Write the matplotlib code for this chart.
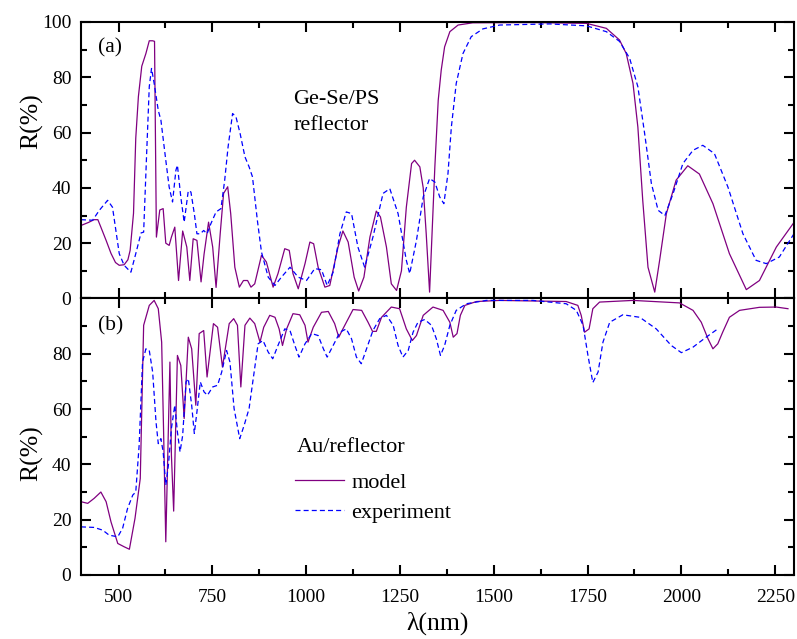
import matplotlib
matplotlib.use("Agg")
import matplotlib.pyplot as plt
from matplotlib.ticker import MultipleLocator

plt.rcParams['font.family'] = ['Liberation Serif', 'DejaVu Serif']

# (a) Ge-Se/PS reflector
wl_a_model = [400, 420, 435, 445, 453, 467, 480, 492, 502, 515, 525, 531, 540, 546, 553, 562, 573, 582,
              591, 596, 601, 610, 619, 626, 635, 641, 650, 660, 671, 682, 690, 699, 709, 720, 728, 740,
              751, 760, 771, 780, 791, 799, 810, 822, 833, 844, 853, 863, 881, 894, 912, 925, 943, 955,
              965, 979, 997, 1010, 1020, 1032, 1050, 1063, 1085, 1098, 1112, 1128, 1140, 1154, 1170,
              1187, 1198, 1214, 1227, 1241, 1254, 1267, 1281, 1289, 1303, 1312, 1320, 1329, 1343, 1352,
              1360, 1369, 1383, 1405, 1444, 1600, 1747, 1800, 1835, 1853, 1871, 1884, 1897, 1911, 1929,
              1942, 1960, 1986, 2017, 2048, 2084, 2128, 2173, 2208, 2253, 2300]
R_a_model = [26.4, 27.5, 28.5, 28.5, 25.8, 21, 16.3, 13, 12, 12.2, 14, 17.4, 30.8, 58, 73, 84, 88.6, 93.2,
             93.2, 93, 22.2, 32, 32.5, 20, 19.2, 22.2, 25.8, 6.5, 24.4, 18.6, 6.5, 21.6, 21, 6, 16, 27.6,
             18.6, 4, 23.4, 38, 40.4, 30.7, 11.3, 4.1, 6.5, 6.5, 4.1, 5.3, 15.6, 13.2, 4.1, 9, 18, 17.4,
             9, 3.5, 12.6, 20.4, 19.8, 11.3, 4.1, 4.7, 18.6, 24.4, 20.4, 7.7, 2.7, 7.7, 22.2,
             31.6, 29.5, 18.6, 5.3, 2.9, 10, 33, 48.8, 50, 47.6, 40, 23.4, 2.3, 47.6, 71.7,
             82.6, 91, 96.5, 98.9, 99.7, 99.8, 99.5, 97.7, 93.5, 88.6, 77.8, 62, 35.5, 11.3, 2.3,
             13.8, 30.7, 42.8, 48, 45, 34.3, 16.2, 3.2, 6.5, 18.6, 27.5]

wl_a_exp = [400, 431, 449, 471, 484, 502, 515, 533, 546, 560, 567, 575, 582, 588, 595, 606, 613, 626, 635,
            644, 653, 657, 666, 675, 686, 693, 702, 709, 718, 727, 736, 746, 760, 773, 783, 792, 804, 813,
            824, 837, 848, 857, 870, 881, 899, 917, 934, 957, 979, 1001, 1023, 1041, 1056, 1072, 1090,
            1107, 1121, 1138, 1156, 1178, 1205, 1223, 1245, 1267, 1276, 1294, 1312, 1329, 1343, 1356,
            1367, 1378, 1387, 1400, 1418, 1440, 1471, 1516, 1649, 1747, 1800, 1835, 1862, 1884, 1902,
            1920, 1938, 1956, 1978, 2004, 2031, 2057, 2088, 2124, 2164, 2199, 2226, 2261, 2300]
R_a_exp = [28.5, 28.3, 31.9, 35.5, 33, 16.2, 12, 9.5, 16.2, 23.7, 24, 52.4, 76.6, 83.2, 77.8, 68, 64.5, 50,
           40.3, 34.9, 46.4, 48.2, 36.7, 27.6, 39, 38.5, 30.7, 23.4, 23.4, 24.6, 23.4, 27, 31.3, 32.5,
           42.8, 54.8, 66.9, 65.7, 59.7, 51.2, 47.6, 44, 28.3, 16.8, 7.7, 4.7, 7.7, 11.3, 7.7, 6.5, 10.8,
           10.4, 4.7, 9.5, 23.4, 31.3, 30.7, 18.6, 11.3, 22.2, 38, 39.7, 30.7, 13.8, 9, 21, 36.7, 43.4,
           42.1, 36.7, 34.3, 45.2, 62, 77.8, 88.6, 94.7, 97.5, 98.9, 99.3, 98.6, 96.5, 93, 86.9, 76.6,
           59.7, 41.6, 31.9, 30, 38, 48.8, 53.6, 55.4, 52.4, 40.3, 23.4, 13.8, 12.6, 15, 23.4]

# (b) Au/reflector
wl_b_model = [400, 418, 435, 453, 467, 480, 498, 515, 529, 544, 558, 567, 582, 595, 606, 615, 620, 626,
              637, 641, 647, 657, 666, 675, 686, 695, 706, 715, 727, 736, 753, 764, 777, 795, 807, 817,
              826, 837, 850, 863, 877, 887, 903, 917, 928, 937, 948, 965, 983, 997, 1005, 1019, 1041,
              1059, 1076, 1087, 1098, 1125, 1148, 1165, 1177, 1187, 1201, 1227, 1249, 1267, 1283, 1294,
              1312, 1338, 1365, 1383, 1392, 1402, 1411, 1423, 1454, 1516, 1693, 1724, 1733, 1742, 1754,
              1764, 1782, 1871, 1995, 2031, 2053, 2071, 2084, 2097, 2110, 2128, 2155, 2208, 2253, 2284]
R_b_model = [26.5, 25.9, 27.7, 30, 26.5, 19.2, 11.4, 10.2, 9.3, 20.5, 34.9, 90.3, 97.5, 99.3, 96.3, 84.2,
             53, 12, 77, 43.3, 23.1, 79.4, 75.8, 56.6, 86, 81.8, 61.4, 87.3, 88.4, 71.6, 90.9, 89.6,
             75.2, 90.9, 92.7, 90.3, 68, 90.3, 92.9, 90.9, 84.2, 89.6, 93.9, 93.2, 89, 83, 89, 94.5,
             94.1, 90.3, 84.2, 89.6, 95, 95.3, 90.9, 86, 89, 96, 95.7, 91.4, 88.1, 88.1, 93.2, 96.9,
             96.3, 89, 84.8, 86.6, 93.9, 96.9, 95.7, 91.4, 86, 87.3, 93.9, 97.5, 98.9, 99.3, 98.9,
             97.5, 93.9, 87.8, 89, 96.3, 98.7, 99.3, 98.4, 95.7, 91.4, 85.4, 81.8, 83.6, 87.8, 93.2,
             95.7, 96.8, 96.9, 96.3]

wl_b_exp = [400, 435, 458, 475, 498, 511, 524, 538, 546, 555, 564, 573, 582, 591, 600, 606, 613, 619, 626,
            633, 641, 650, 657, 664, 671, 680, 686, 695, 702, 709, 718, 728, 737, 751, 764, 775, 788, 797,
            808, 823, 835, 848, 859, 872, 885, 899, 911, 925, 943, 957, 970, 981, 997, 1015, 1032, 1046,
            1056, 1072, 1090, 1107, 1121, 1134, 1147, 1161, 1178, 1196, 1214, 1232, 1245, 1258, 1272,
            1285, 1298, 1316, 1334, 1347, 1358, 1369, 1383, 1400, 1427, 1480, 1604, 1693, 1720, 1738,
            1751, 1764, 1778, 1791, 1809, 1844, 1889, 1933, 1973, 2000, 2031, 2066, 2097]
R_b_exp = [17.4, 17.2, 16.2, 14.4, 13.8, 16.9, 24, 28.9, 30, 46.9, 77, 81.8, 81.2, 73.4, 55.3, 47.5, 49.3,
           44.5, 32.5, 39.7, 53, 61.4, 51.7, 44.5, 50.5, 69.8, 71, 61.4, 51.2, 59, 69.8, 66.2, 65, 68,
           68.6, 73.4, 81.2, 77, 60.2, 49.3, 54.2, 60.2, 71, 83.6, 84.8, 80.6, 78.2, 83, 89, 88.4, 83,
           78.8, 83.6, 87.3, 86.6, 81.8, 78.8, 83, 87.8, 89, 85.4, 78.8, 76.4, 81.8, 88.4, 92.7, 93.9,
           90.3, 83, 78.8, 81.2, 87.8, 91.4, 92.4, 90.3, 85.4, 79.4, 83, 90.3, 95.7, 98.1, 99.3, 99.3,
           98.1, 95.7, 90.3, 79.4, 69.6, 73.4, 84.2, 91.4, 94.1, 93.2, 89, 83, 80.4, 82.4, 86, 89]

model_color = '#800080'
exp_color = '#0000ff'
dash = (0, (4, 2.5))

fig, (ax1, ax2) = plt.subplots(2, 1, figsize=(7.97, 6.39), dpi=100, sharex=True)
plt.subplots_adjust(left=0.1016, right=0.9962, top=0.9656, bottom=0.1002, hspace=0)

ax1.plot(wl_a_model, R_a_model, color=model_color, lw=0.9)
ax1.plot(wl_a_exp, R_a_exp, color=exp_color, lw=0.9, ls=dash)
ax2.plot(wl_b_model, R_b_model, color=model_color, lw=0.9, label='model')
ax2.plot(wl_b_exp, R_b_exp, color=exp_color, lw=0.9, ls=dash, label='experiment')

for ax in (ax1, ax2):
    ax.set_xlim(400, 2300)
    ax.set_ylim(0, 100)
    ax.xaxis.set_major_locator(MultipleLocator(250))
    ax.xaxis.set_minor_locator(MultipleLocator(125))
    ax.yaxis.set_major_locator(MultipleLocator(20))
    ax.yaxis.set_minor_locator(MultipleLocator(10))
    ax.tick_params(which='both', direction='in', top=True, right=True, width=1.5)
    ax.tick_params(which='major', length=7, labelsize=14, pad=7)
    ax.tick_params(which='minor', length=4)
    for s in ax.spines.values():
        s.set_linewidth(1.5)
    ax.set_ylabel('R(%)', fontsize=18.5)

ax1.tick_params(labelbottom=False)
ax2.tick_params(axis='x', which='major', pad=10)
ax2.set_yticks([0, 20, 40, 60, 80, 100])
ax2.set_yticklabels(['0', '20', '40', '60', '80', ''])
ax1.yaxis.set_label_coords(-0.053, 0.64)
ax2.yaxis.set_label_coords(-0.053, 0.44)
ax2.set_xlabel('λ(nm)', fontsize=18.5, labelpad=4)

ax1.text(0.024, 0.905, '(a)', transform=ax1.transAxes, fontsize=15.5, va='center')
ax1.text(0.298, 0.672, 'Ge-Se/PS\nreflector', transform=ax1.transAxes, fontsize=16,
         va='center', linespacing=1.5)
ax2.text(0.024, 0.9, '(b)', transform=ax2.transAxes, fontsize=15.5, va='center')
ax2.text(0.302, 0.462, 'Au/reflector', transform=ax2.transAxes, fontsize=16, va='center')

leg = ax2.legend(loc='center left', bbox_to_anchor=(0.300, 0.28),
                 frameon=False, fontsize=16, handlelength=2.2, handletextpad=0.35,
                 labelspacing=0.45, borderpad=0, borderaxespad=0)

fig.savefig('out.png', dpi=100)
